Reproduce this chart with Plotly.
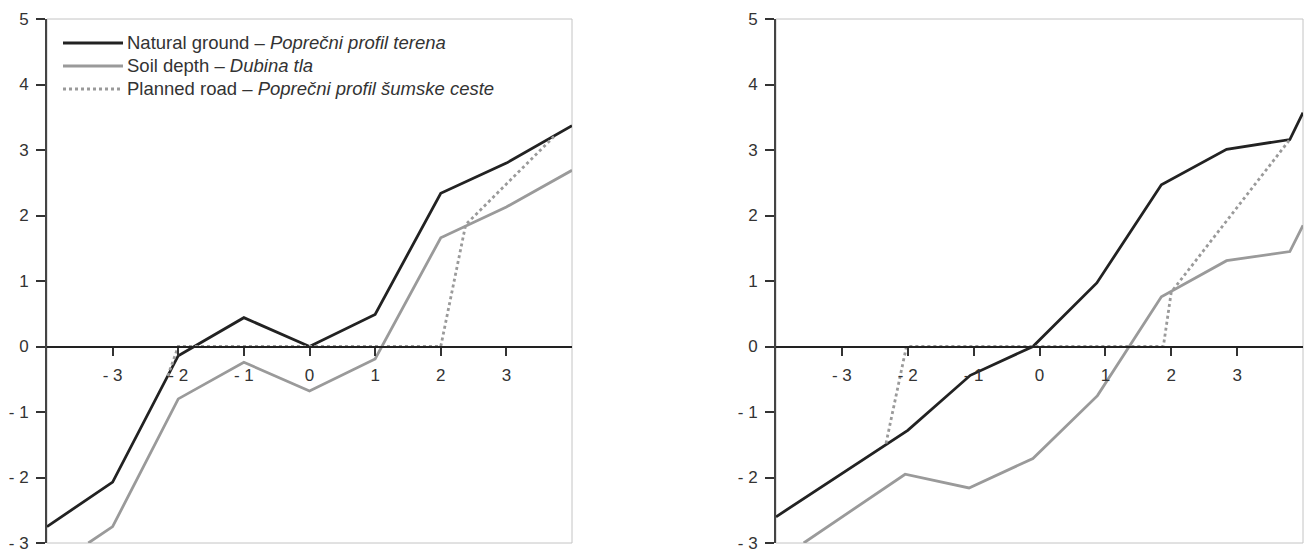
import plotly.graph_objects as go

FONT = "Liberation Sans, Arial, sans-serif"
TXT = "#333333"

# ---- tick labels ----
x_tick_vals = [-3, -2, -1, 0, 1, 2, 3]
x_tick_text = ["- 3", "- 2", "- 1", "0", "1", "2", "3"]
y_tick_vals = [-3, -2, -1, 0, 1, 2, 3, 4, 5]
y_tick_text = ["- 3", "- 2", "- 1", "0", "1", "2", "3", "4", "5"]

# ---- series names ----
names = [
    "Natural ground – <i>Poprečni profil terena</i>",
    "Soil depth – <i>Dubina tla</i>",
    "Planned road – <i>Poprečni profil šumske ceste</i>",
]

# ---- left profile ----
a_ground_x = [-4, -3, -2, -1, 0, 1, 2, 3, 4]
a_ground_y = [-2.75, -2.07, -0.14, 0.44, 0.0, 0.49, 2.34, 2.80, 3.37]
a_soil_x = [-3.37, -3, -2, -1, 0, 1, 2, 3, 4]
a_soil_y = [-3.0, -2.75, -0.80, -0.24, -0.68, -0.19, 1.66, 2.13, 2.69]
a_road_x = [-2.16, -2, 2, 2.38, 3.75]
a_road_y = [-0.45, 0, 0, 1.86, 3.23]

# ---- right profile ----
b_ground_x = [-4, -2, -1.05, -0.1, 0.87, 1.85, 2.84, 3.8, 4]
b_ground_y = [-2.6, -1.28, -0.44, 0.0, 0.97, 2.47, 3.01, 3.16, 3.57]
b_soil_x = [-3.58, -2.04, -1.07, -0.1, 0.88, 1.85, 2.84, 3.8, 4]
b_soil_y = [-3.0, -1.95, -2.16, -1.71, -0.75, 0.76, 1.31, 1.45, 1.85]
b_road_x = [-2.33, -2.02, 1.88, 2.0, 3.8]
b_road_y = [-1.48, 0, 0, 0.83, 3.16]

BLACK = "#222222"
GRAY = "#9a9a9a"
styles = [
    dict(color=BLACK, width=2.8),
    dict(color=GRAY, width=2.8),
    dict(color=GRAY, width=2.8, dash="dot"),
]

fig = go.Figure()
panels = [
    ("x", "y", [(a_ground_x, a_ground_y), (a_soil_x, a_soil_y), (a_road_x, a_road_y)]),
    ("x2", "y2", [(b_ground_x, b_ground_y), (b_soil_x, b_soil_y), (b_road_x, b_road_y)]),
]
for xa, ya, series in panels:
    for (xs, ys), nm, st in zip(series, names, styles):
        fig.add_trace(go.Scatter(x=xs, y=ys, mode="lines", name=nm, line=st,
                                 xaxis=xa, yaxis=ya, showlegend=False))

W, H = 1309, 553
ML, MR, MT, MB = 47, 6, 19, 10
pw = W - ML - MR
ph = H - MT - MB
left_dom = [0, 525 / pw]
right_dom = [(776 - ML) / pw, 1.0]
zero_pos = 3 / 8


def xax(dom):
    return dict(domain=dom, range=[-4, 4], anchor="free", position=zero_pos,
                tickvals=x_tick_vals, ticktext=x_tick_text, ticks="outside",
                ticklen=8, tickwidth=1.5, tickcolor="#333", showline=True,
                linecolor="#222", linewidth=2, showgrid=False, zeroline=False,
                ticklabelstandoff=5, ticklabeloverflow="allow",
                tickfont=dict(family=FONT, size=17, color=TXT), fixedrange=True)


def yax(anchor_x):
    return dict(domain=[0, 1], range=[-3, 5], anchor=anchor_x,
                tickvals=y_tick_vals, ticktext=y_tick_text, ticks="outside",
                ticklen=9, tickwidth=1.5, tickcolor="#333", showline=True,
                linecolor="#444", linewidth=2, showgrid=False, zeroline=False,
                ticklabelstandoff=4, ticklabeloverflow="allow",
                tickfont=dict(family=FONT, size=17, color=TXT), fixedrange=True)


shapes = []
for xr, yr in [("x domain", "y domain"), ("x2 domain", "y2 domain")]:
    shapes.append(dict(type="rect", xref=xr, yref=yr, x0=0, x1=1, y0=0, y1=1,
                       line=dict(color="#c4c4c4", width=1), layer="below"))

# custom legend inside the left panel
annotations = []
rows = [43, 66, 89]
for nm, st, py in zip(names, styles, rows):
    yd = (H - MB - py) / ph
    shapes.append(dict(type="line", xref="x domain", yref="y domain",
                       x0=(63 - 47) / 525, x1=(123 - 47) / 525, y0=yd, y1=yd,
                       line=st))
    annotations.append(dict(xref="x domain", yref="y domain", x=(125 - 47) / 525,
                            y=yd, xanchor="left", yanchor="middle", text=nm,
                            showarrow=False, font=dict(family=FONT, size=18.5, color=TXT)))

fig.update_layout(
    width=W, height=H, autosize=False,
    margin=dict(l=ML, r=MR, t=MT, b=MB, autoexpand=False),
    paper_bgcolor="white", plot_bgcolor="white",
    xaxis=xax(left_dom), yaxis=yax("x"), xaxis2=xax(right_dom), yaxis2=yax("x2"),
    shapes=shapes, annotations=annotations, showlegend=False,
)

fig.write_html("out.html", config={"displayModeBar": False},
               post_script="document.body.style.margin='0';")
